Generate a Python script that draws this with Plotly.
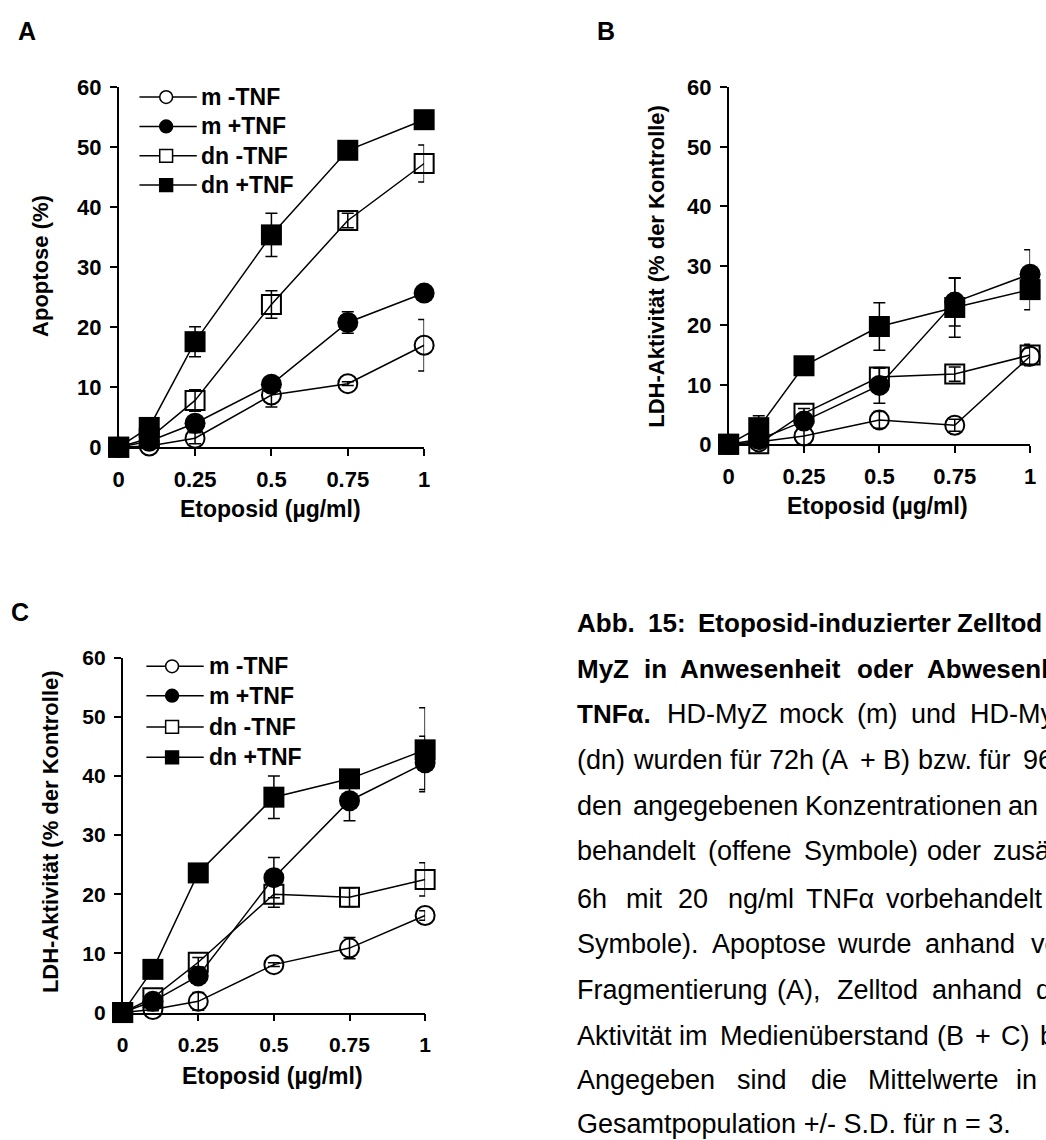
import plotly.graph_objects as go

W, H = 1046, 1140

# ---------------- data ----------------
etoposid = [0, 0.1, 0.25, 0.5, 0.75, 1]
series_names = ["m -TNF", "m +TNF", "dn -TNF", "dn +TNF"]

# Panel A: Apoptose (%)
a_m_minus = [0, 0.2, 1.5, 8.7, 10.6, 17.0]
a_m_minus_sd = [0, 0.2, 0.9, 2.0, 0.3, 4.3]
a_m_plus = [0, 1.0, 4.0, 10.5, 20.8, 25.7]
a_m_plus_sd = [0, 0.3, 1.0, 0.6, 1.8, 0.5]
a_dn_minus = [0, 1.5, 7.8, 23.8, 37.8, 47.3]
a_dn_minus_sd = [0, 0.3, 1.8, 2.3, 1.2, 3.1]
a_dn_plus = [0, 3.3, 17.6, 35.4, 49.5, 54.6]
a_dn_plus_sd = [0, 0.5, 2.5, 3.6, 0.5, 1.2]

# Panel B: LDH-Aktivitaet (72h)
b_m_minus = [0, 0.4, 1.4, 4.1, 3.2, 14.8]
b_m_minus_sd = [0, 0.2, 1.8, 1.4, 1.0, 1.4]
b_m_plus = [0, 0.8, 3.9, 9.9, 23.9, 28.6]
b_m_plus_sd = [0, 0.3, 0.8, 3.0, 4.0, 4.1]
b_dn_minus = [0, 0.1, 5.2, 11.3, 11.8, 15.0]
b_dn_minus_sd = [0, 0.3, 0.8, 1.5, 1.2, 1.8]
b_dn_plus = [0, 2.8, 13.2, 19.8, 23.0, 26.0]
b_dn_plus_sd = [0, 2.0, 0.5, 4.0, 5.0, 3.4]

# Panel C: LDH-Aktivitaet (96h)
c_m_minus = [0, 0.5, 1.9, 8.1, 10.9, 16.4]
c_m_minus_sd = [0, 0.2, 1.5, 0.3, 1.8, 0.8]
c_m_plus = [0, 1.9, 6.2, 22.8, 35.8, 42.2]
c_m_plus_sd = [0, 0.5, 0.8, 3.4, 3.4, 4.5]
c_dn_minus = [0, 2.5, 8.5, 20.0, 19.5, 22.5]
c_dn_minus_sd = [0, 0.5, 0.8, 2.2, 1.6, 2.8]
c_dn_plus = [0, 7.3, 23.6, 36.4, 39.5, 44.4]
c_dn_plus_sd = [0, 0.5, 0.4, 3.6, 0.5, 7.1]

x_tickvals = [0, 0.25, 0.5, 0.75, 1]
x_ticktext = ["0", "0.25", "0.5", "0.75", "1"]
y_tickvals = [0, 10, 20, 30, 40, 50, 60]

x_title = "Etoposid (µg/ml)"
y_title_a = "Apoptose (%)"
y_title_ldh = "LDH-Aktivität (% der Kontrolle)"

caption_lines = [
    [("Abb.", True), ("15:", True), ("Etoposid-induzierter", True), ("Zelltod", True)],
    [("MyZ", True), ("in", True), ("Anwesenheit", True), ("oder", True), ("Abwesenheit", True)],
    [("TNFα.", True), ("HD-MyZ", False), ("mock", False), ("(m)", False), ("und", False), ("HD-MyZ", False)],
    [("(dn)", False), ("wurden", False), ("für", False), ("72h", False), ("(A", False), ("+", False), ("B)", False), ("bzw.", False), ("für", False), ("96h", False)],
    [("den", False), ("angegebenen", False), ("Konzentrationen", False), ("an", False)],
    [("behandelt", False), ("(offene", False), ("Symbole)", False), ("oder", False), ("zusätzlich", False)],
    [("6h", False), ("mit", False), ("20", False), ("ng/ml", False), ("TNFα", False), ("vorbehandelt", False)],
    [("Symbole).", False), ("Apoptose", False), ("wurde", False), ("anhand", False), ("von", False)],
    [("Fragmentierung", False), ("(A),", False), ("Zelltod", False), ("anhand", False), ("der", False)],
    [("Aktivität", False), ("im", False), ("Medienüberstand", False), ("(B", False), ("+", False), ("C)", False), ("bestimmt.", False)],
    [("Angegeben", False), ("sind", False), ("die", False), ("Mittelwerte", False), ("in", False)],
    [("Gesamtpopulation +/- S.D. für n = 3.", False)],
]

# ---------------- layout constants (pixels) ----------------
caption_word_x = [
    [576, 647, 698, 960],
    [576, 643, 680, 859, 930],
    [576, 667, 780, 859, 913, 973],
    [576, 632, 730, 770, 822, 862, 885, 921, 982, 1027],
    [576, 632, 806, 1012],
    [576, 708, 805, 930, 996],
    [576, 625, 678, 728, 807, 888],
    [576, 712, 839, 928, 1035],
    [576, 778, 839, 935, 1040],
    [576, 679, 720, 940, 978, 1005, 1044],
    [576, 737, 812, 870, 1020],
    [576],
]
caption_y = [625, 672, 718, 765, 812, 858, 907, 953, 1000, 1047, 1092, 1137]

FONT = "Liberation Sans, Arial, sans-serif"


def X(px):
    return px / W


def Y(py):
    return 1 - py / H


panels = {
    # name: (x_px_left, x_px_right, y_px_top, y_px_bottom)
    "A": (114, 423, 77, 445),
    "B": (731, 1036, 77, 442),
    "C": (118, 424, 660, 1023),
}

fig = go.Figure()

styles = [
    dict(symbol="circle", size=19, color="rgba(0,0,0,0)", line=dict(color="black", width=2)),
    dict(symbol="circle", size=21, color="black", line=dict(color="black", width=0)),
    dict(symbol="square", size=19, color="rgba(0,0,0,0)", line=dict(color="black", width=2)),
    dict(symbol="square", size=21, color="black", line=dict(color="black", width=0)),
]
open_flags = [True, False, True, False]

panel_data = {
    "A": [(a_m_minus, a_m_minus_sd), (a_m_plus, a_m_plus_sd), (a_dn_minus, a_dn_minus_sd), (a_dn_plus, a_dn_plus_sd)],
    "B": [(b_m_minus, b_m_minus_sd), (b_m_plus, b_m_plus_sd), (b_dn_minus, b_dn_minus_sd), (b_dn_plus, b_dn_plus_sd)],
    "C": [(c_m_minus, c_m_minus_sd), (c_m_plus, c_m_plus_sd), (c_dn_minus, c_dn_minus_sd), (c_dn_plus, c_dn_plus_sd)],
}
axis_ids = {"A": ("x", "y"), "B": ("x2", "y2"), "C": ("x3", "y3")}

for p, series in panel_data.items():
    xa, ya = axis_ids[p]
    for name, (vals, sd), st in zip(series_names, series, styles):
        fig.add_trace(go.Scatter(
            x=etoposid, y=vals, name=name, mode="lines+markers",
            xaxis=xa, yaxis=ya, showlegend=False, cliponaxis=False,
            line=dict(color="black", width=1.5),
            marker=st,
            error_y=dict(type="data", array=sd, visible=True, color="black",
                         thickness=1.5, width=6),
        ))

tick_font = dict(family=FONT, size=22, color="black", weight="bold")
tick_font_c = dict(family=FONT, size=21, color="black", weight="bold")


def axis_common():
    return dict(showline=True, linecolor="black", linewidth=1.5, ticks="outside",
                ticklen=7, tickwidth=1.5, tickcolor="black", showgrid=False,
                zeroline=False, layer="below traces")


layout_axes = {}
for i, p in enumerate(["A", "B", "C"]):
    l, r, t, b = panels[p]
    suffix = "" if i == 0 else str(i + 1)
    tf = tick_font_c if p == "C" else tick_font
    layout_axes["xaxis" + suffix] = dict(
        domain=[X(l), X(r)], range=[0, 1], tickvals=x_tickvals, ticktext=x_ticktext,
        anchor="y" + suffix, tickfont=tf, ticklabelstandoff=5, **axis_common())
    layout_axes["yaxis" + suffix] = dict(
        domain=[Y(b), Y(t)], range=[0, 60], tickvals=y_tickvals,
        anchor="x" + suffix, tickfont=tf, ticklabelstandoff=4, **axis_common())

annotations = []
shapes = []


def ann(text, x, y, size, bold=True, xanchor="center", yanchor="middle", angle=0):
    annotations.append(dict(
        text=text, x=X(x), y=Y(y), xref="paper", yref="paper", showarrow=False,
        xanchor=xanchor, yanchor=yanchor, textangle=angle,
        font=dict(family=FONT, size=size, color="black", weight="bold" if bold else "normal"),
    ))


# panel letters
ann("A", 21, 19, 25)
ann("B", 607, 19, 25)
ann("C", 14, 613, 25)

# axis titles
ann(x_title, 268, 508, 23)
ann(x_title, 882, 505, 23)
ann(x_title, 270, 1088, 23)
ann(y_title_a, 35, 260, 22, angle=-90)
ann(y_title_ldh, 658, 260, 22, angle=-90)
ann(y_title_ldh, 45, 838, 22, angle=-90)

# legends (panel A and C)
legend_pos = {
    "A": dict(x0=135, x1=193, xm=162, xt=195, ys=[87, 117, 147, 177]),
    "C": dict(x0=142, x1=200, xm=168, xt=203, ys=[669, 699, 731, 762]),
}
r = 6.5
for p, lp in legend_pos.items():
    for name, st, is_open, yy in zip(series_names, styles, open_flags, lp["ys"]):
        shapes.append(dict(type="line", xref="paper", yref="paper",
                           x0=X(lp["x0"]), x1=X(lp["x1"]), y0=Y(yy), y1=Y(yy),
                           line=dict(color="black", width=1.5)))
        kind = "circle" if st["symbol"] == "circle" else "rect"
        shapes.append(dict(type=kind, xref="paper", yref="paper",
                           x0=X(lp["xm"] - r), x1=X(lp["xm"] + r),
                           y0=Y(yy + r), y1=Y(yy - r),
                           fillcolor="white" if is_open else "black",
                           line=dict(color="black", width=1.5)))
        ann(name, lp["xt"], yy, 23, xanchor="left")

# caption
for words, xs, yy in zip(caption_lines, caption_word_x, caption_y):
    for (w, bold), xx in zip(words, xs):
        ann(w, xx, yy, 26 if bold else 27, bold=bold, xanchor="left")

fig.update_layout(
    width=W, height=H, margin=dict(l=0, r=0, t=0, b=0),
    paper_bgcolor="white", plot_bgcolor="white",
    showlegend=False, annotations=annotations, shapes=shapes,
    **layout_axes,
)

fig.write_html("out.html")
